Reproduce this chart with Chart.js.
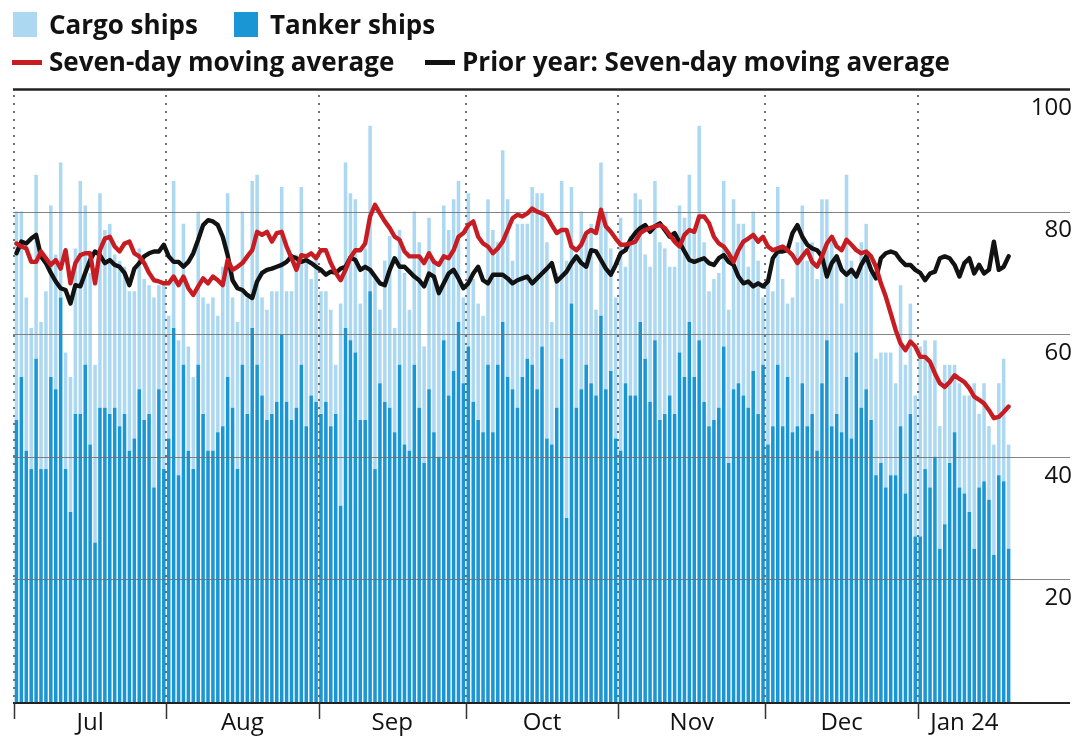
<!DOCTYPE html>
<html><head><meta charset="utf-8">
<script src="https://cdn.jsdelivr.net/npm/chart.js@4"></script>
<style>
html,body{margin:0;padding:0;background:#fff}
body{width:1076px;height:737px;position:relative;overflow:hidden;font-family:"Open Sans",sans-serif;color:#121212}
#wrap{position:absolute;left:0;top:0;width:1076px;height:737px}
.lg{position:absolute;font-weight:700;font-size:26px;line-height:26px;white-space:nowrap}
.sw{position:absolute}
</style></head><body>
<div id="wrap"><canvas id="c" width="1076" height="737"></canvas></div>
<div class="sw" style="left:13px;top:12px;width:24px;height:25px;background:#acd9f1"></div>
<div class="lg" style="left:49px;top:11px">Cargo ships</div>
<div class="sw" style="left:234px;top:12px;width:24px;height:25px;background:#1a96d4"></div>
<div class="lg" style="left:270px;top:11px">Tanker ships</div>
<div class="sw" style="left:12px;top:60px;width:30px;height:5px;background:#c71d22"></div>
<div class="lg" style="left:49px;top:48px">Seven-day moving average</div>
<div class="sw" style="left:425px;top:60px;width:30px;height:5px;background:#121212"></div>
<div class="lg" style="left:462px;top:48px">Prior year: Seven-day moving average</div>
<script>
// daily ship counts, 1 Jul 2023 - 20 Jan 2024
const tanker=[46,53,41,38,56,38,38,53,51,66, 38,31,47,47,55,42,26,48,48,47, 48,45,47,41,43,51,46,47,35,51,
 38,43,61,37,55,41,38,55,47,41, 41,44,45,53,48,38,55,47,61,55, 50,46,47,49,60,49,46,48,55,45,
 50,49,47,49,45,47,32,61,59,57, 46,46,67,38,52,49,48,44,55,42, 41,55,48,39,51,44,40,59,50,54,
 62,52,58,49,46,44,55,44,55,62, 53,51,48,53,56,55,51,58,43,42, 48,56,30,65,48,51,55,52,50,63,
 51,54,43,41,52,50,50,62,56,49, 59,46,47,50,47,57,53,62,53,59, 49,45,46,48,58,39,51,52,50,48,
 54,47,55,42,45,55,45,53,44,45, 52,45,47,41,52,59,45,47,44,53, 43,57,48,51,46,37,39,35,37,37,
 45,34,47,27,27,38,35,40,25,29, 39,44,35,34,31,25,35,36,33,24, 37,36,25]
const cargo=[34,27,25,23,30,24,29,28,22,22, 19,22,27,38,26,28,29,35,29,31, 25,27,24,26,24,23,23,21,31,17,
 30,20,24,22,23,17,15,25,19,24, 25,19,26,30,18,24,25,19,24,31, 16,18,20,18,24,18,21,25,29,28,
 19,24,20,18,19,8,33,27,24,25, 19,28,27,31,12,23,28,17,22,28, 23,25,27,19,28,28,28,22,27,28,
 23,14,25,20,19,19,27,33,20,28, 29,21,30,25,22,29,32,25,32,20, 22,29,42,19,24,29,21,26,14,25,
 29,20,23,38,19,26,33,20,17,22, 26,29,27,21,24,24,26,24,24,35, 26,22,23,22,27,25,31,26,28,23,
 26,25,11,27,22,29,24,12,22,30, 29,27,28,28,30,23,30,25,21,33, 29,13,27,27,24,19,18,22,20,15,
 23,21,18,23,31,21,20,19,20,26, 16,11,17,16,19,27,12,16,12,18, 15,20,17]
const avg7=[74.8,74.3,74.0,71.8,71.8,73.5,72.4,71.3,72.1,70.7, 73.7,68.3,71.6,72.9,73.2,73.2,68.3,73.7,75.6,75.9,
 74.3,73.5,74.8,75.1,73.2,72.7,71.6,70.0,68.8,68.6, 68.3,68.3,69.4,68.0,69.4,67.5,66.4,67.8,69.1,68.3,
 69.4,68.8,68.0,72.1,70.5,71.0,71.6,72.7,73.7,76.7, 76.2,76.7,75.1,76.5,76.7,74.3,72.4,70.5,72.9,72.7,
 73.2,72.4,73.7,73.7,71.6,70.0,68.8,70.5,72.5,73.7, 73.7,74.8,79.2,81.1,79.7,78.4,77.3,75.9,75.4,73.5,
 72.7,72.7,72.7,71.6,73.2,71.8,71.3,72.7,72.4,73.7, 75.9,76.5,77.8,78.4,75.9,74.8,74.3,73.2,74.0,75.1,
 77.0,78.9,79.5,79.2,79.7,80.5,80.0,79.7,79.2,77.8, 76.5,77.0,77.0,74.3,73.7,74.6,76.5,77.0,76.5,80.3,
 77.6,76.7,75.6,74.6,74.6,74.8,75.1,76.5,77.0,77.3, 77.6,77.8,77.3,76.2,75.1,74.3,76.2,77.0,76.7,79.2,
 79.2,78.1,75.9,74.8,74.3,73.2,71.8,73.7,75.1,75.6, 76.2,75.1,75.9,74.3,73.7,74.0,74.3,73.7,72.9,71.6,
 72.7,73.7,71.8,71.0,72.7,74.8,75.9,74.3,73.7,75.4, 74.6,73.7,73.2,73.5,72.7,71.0,68.3,66.1,63.4,60.7,
 58.5,57.4,58.8,58.0,56.3,56.3,55.5,53.6,52.0,51.4, 52.2,53.3,52.7,52.2,51.2,49.8,49.3,48.7,47.6,46.3,
 46.5,47.3,48.2]
const priorAvg7=[73.2,75.1,74.8,75.6,76.2,72.7,71.6,70.0,68.6,67.5, 67.2,65.0,68.0,67.8,70.0,72.1,73.5,72.9,71.6,72.1,
 71.3,71.0,70.0,68.0,70.7,71.6,72.7,73.2,73.5,73.5, 74.6,72.7,71.8,71.8,71.0,71.8,73.2,75.4,77.8,78.6,
 78.4,77.8,75.9,72.9,68.8,67.5,67.2,66.4,65.9,68.6, 70.0,70.5,70.7,71.0,71.3,71.8,72.7,72.4,71.8,72.1,
 71.6,71.0,70.5,69.7,70.2,70.0,70.7,71.0,72.5,72.1, 70.5,71.0,70.5,69.4,68.3,68.0,70.5,72.4,71.0,71.0,
 70.2,69.4,68.8,67.8,69.9,69.4,66.7,68.3,69.9,70.5, 69.1,67.5,68.3,69.9,71.0,68.8,68.3,69.7,69.7,69.7,
 69.1,68.3,68.8,69.1,69.4,68.3,69.1,69.9,70.7,71.6, 68.6,69.4,70.2,71.6,72.7,71.6,71.0,73.7,73.5,72.1,
 70.7,69.7,71.3,73.2,73.7,75.4,76.5,77.3,77.8,76.7, 77.6,78.1,77.0,75.9,76.5,75.0,73.5,72.1,71.8,72.1,
 72.4,71.6,71.3,72.4,72.9,71.8,71.3,69.4,68.3,68.6, 67.8,68.3,67.8,68.6,72.4,73.5,73.5,73.7,76.5,77.8,
 75.9,74.6,74.0,73.7,72.7,69.4,71.6,72.7,70.5,69.7, 70.5,69.4,71.3,72.7,70.5,69.1,72.4,73.2,73.5,73.2,
 72.1,71.3,71.3,70.5,70.0,68.8,69.9,70.2,72.4,72.7, 72.4,71.3,69.4,71.6,72.4,69.9,71.3,69.9,70.5,75.1,
 70.5,71.0,72.7]
const monthNames=["Jul","Aug","Sep","Oct","Nov","Dec","Jan 24"]
const monthStart=[0,31,62,92,123,153,184]
const axisDays=215
const yTicks=[20,40,60,80,100]

const days=tanker.map((_,i)=>i)
const pts=arr=>days.map(i=>({x:i,y:arr[i]}))

let gridDone=false
const frame={
  id:"frame",
  beforeDatasetsDraw(){gridDone=false},
  beforeDatasetDraw(chart,args){
    if(gridDone||args.meta.type!=="line")return
    gridDone=true
    const {ctx,chartArea:a,scales:{x,y}}=chart
    ctx.save()
    yTicks.forEach(v=>{
      const py=Math.round(y.getPixelForValue(v))+0.5
      ctx.beginPath()
      ctx.strokeStyle=v===100?"#222":"rgba(110,110,110,0.85)"
      ctx.lineWidth=v===100?2.5:1.2
      ctx.moveTo(a.left-1,py);ctx.lineTo(a.right,py);ctx.stroke()
    })
    ctx.setLineDash([2,6])
    ctx.strokeStyle="rgba(100,100,100,0.9)"
    ctx.lineWidth=2
    monthStart.forEach(d=>{
      const px=Math.round(x.getPixelForValue(d-0.5))
      ctx.beginPath();ctx.moveTo(px,a.top+6);ctx.lineTo(px,a.bottom);ctx.stroke()
    })
    ctx.restore()
  },
  afterDraw(chart){
    const {ctx,chartArea:a,scales:{x}}=chart
    ctx.save()
    ctx.strokeStyle="#222";ctx.lineWidth=2
    ctx.beginPath();ctx.moveTo(a.left-1,a.bottom+1);ctx.lineTo(a.right,a.bottom+1);ctx.stroke()
    ctx.lineWidth=1.5;ctx.strokeStyle="#333"
    monthStart.forEach(d=>{
      const px=Math.round(x.getPixelForValue(d-0.5))+0.5
      ctx.beginPath();ctx.moveTo(px,a.bottom);ctx.lineTo(px,a.bottom+17);ctx.stroke()
    })
    ctx.fillStyle="#121212";ctx.font='24px "Open Sans"';ctx.textAlign="center";ctx.textBaseline="middle"
    monthNames.forEach((m,i)=>{
      const end=i<monthStart.length-1?monthStart[i+1]:tanker.length
      const cx=x.getPixelForValue((monthStart[i]+end)/2-0.5)
      ctx.fillText(m,cx,a.bottom+21)
    })
    ctx.restore()
  }
}

const bar={type:"bar",stack:"ships",order:2,barPercentage:1,categoryPercentage:0.72,borderWidth:0}
const line={type:"line",pointRadius:0,borderWidth:4.4,tension:0,borderJoinStyle:"round",borderCapStyle:"round",fill:false}

new Chart(document.getElementById("c"),{
  data:{datasets:[
    {...bar,label:"Tanker ships",data:pts(tanker),backgroundColor:"#1a96d4"},
    {...bar,label:"Cargo ships",data:pts(cargo),backgroundColor:"#acd9f1"},
    {...line,label:"Prior year: Seven-day moving average",data:pts(priorAvg7),borderColor:"#121212",stack:"prior",order:1},
    {...line,label:"Seven-day moving average",data:pts(avg7),borderColor:"#c71d22",stack:"avg",order:0}
  ]},
  options:{
    responsive:false,animation:false,
    layout:{padding:{top:89,left:14,right:2,bottom:35}},
    plugins:{legend:{display:false},tooltip:{enabled:false}},
    scales:{
      x:{type:"linear",display:false,offset:false,grid:{offset:false},min:-0.5,max:axisDays-0.5,stacked:true},
      y:{position:"right",min:0,max:100,stacked:true,grid:{display:false,drawTicks:false},border:{display:false},
        ticks:{stepSize:20,mirror:true,padding:2,labelOffset:19,color:"#121212",
          font:{family:"Open Sans",size:24},callback:v=>v===0?"":v}}
    }
  },
  plugins:[frame]
})
</script>
</body></html>
